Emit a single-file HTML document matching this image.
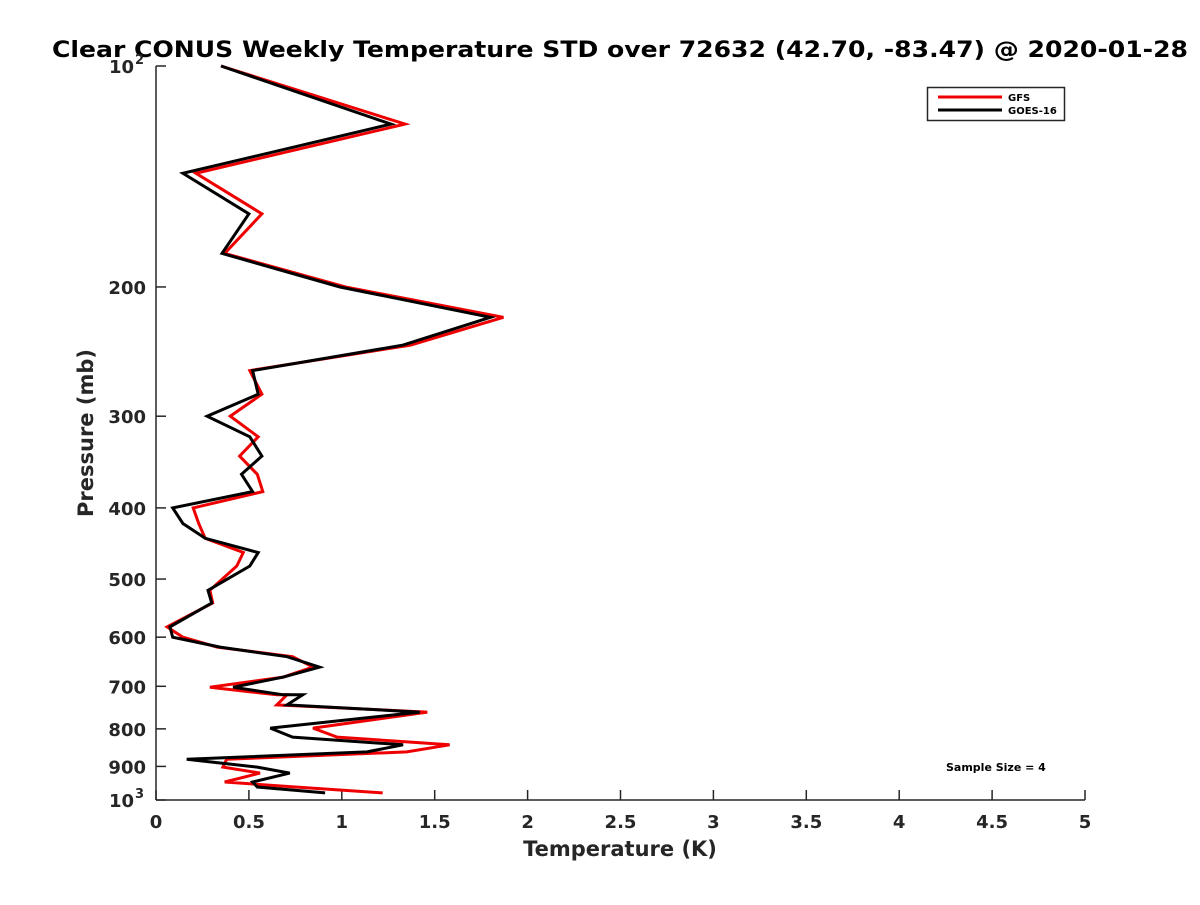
<!DOCTYPE html>
<html><head><meta charset="utf-8"><style>
body{margin:0;background:#fff}
text{font-family:"DejaVu Sans","Liberation Sans",sans-serif;font-weight:bold;fill:#262626}
</style></head><body>
<svg id="chart" width="1200" height="900" viewBox="0 0 1200 900" xmlns="http://www.w3.org/2000/svg">
<rect width="1200" height="900" fill="#fff"/>
<text x="52" y="57" font-size="22" textLength="1136" lengthAdjust="spacingAndGlyphs" style="fill:#000">Clear CONUS Weekly Temperature STD over 72632 (42.70, -83.47) @ 2020-01-28</text>
<g id="axes"></g>
<g id="series"></g>
<g>
<rect x="927.5" y="87.5" width="137" height="33" fill="#fff" stroke="#262626" stroke-width="1.5"/>
<line x1="938" y1="97" x2="1002" y2="97" stroke="#e00" stroke-width="3"/>
<text x="1008" y="101" font-size="10" style="fill:#000">GFS</text>
<line x1="938" y1="110" x2="1002" y2="110" stroke="#000" stroke-width="3"/>
<text x="1008" y="114" font-size="10" style="fill:#000">GOES-16</text>
</g>
<text x="946" y="771" font-size="11" style="fill:#000">Sample Size = 4</text>
<text x="620" y="856" font-size="21" text-anchor="middle">Temperature (K)</text>
<text transform="translate(93,433) rotate(-90)" font-size="21" text-anchor="middle">Pressure (mb)</text>
</svg>
<script>
const pressures=[100,120,140,159,180,200,220,240,260,280,300,320,340,360,380,400,420,440,460,480,518,539,581,600,619,638,659,680,702,719,719,742,759,798,821,841,860,880,902,919,945,960,978];
const goesValues=[0.35,1.265,0.145,0.50,0.355,0.99,1.80,1.33,0.52,0.55,0.275,0.505,0.57,0.46,0.52,0.09,0.145,0.265,0.55,0.505,0.28,0.30,0.075,0.09,0.345,0.705,0.88,0.685,0.415,0.685,0.79,0.705,1.42,0.615,0.735,1.33,1.135,0.165,0.545,0.72,0.52,0.545,0.91];
const gfsValues=[0.35,1.34,0.215,0.57,0.37,1.02,1.87,1.37,0.505,0.57,0.40,0.55,0.45,0.545,0.575,0.20,0.23,0.265,0.47,0.435,0.29,0.305,0.06,0.145,0.33,0.735,0.845,0.685,0.29,0.65,0.705,0.65,1.46,0.845,0.975,1.58,1.35,0.38,0.36,0.56,0.37,0.75,1.22];
const xTicks=[0,0.5,1,1.5,2,2.5,3,3.5,4,4.5,5];
const xTickLabels=["0","0.5","1","1.5","2","2.5","3","3.5","4","4.5","5"];
const yTicks=[100,200,300,400,500,600,700,800,900,1000];
const yTickLabels=["10^2","200","300","400","500","600","700","800","900","10^3"];

const NS="http://www.w3.org/2000/svg";
const X0=156,X1=1085,Y0=66,Y1=800;
const xs=v=>X0+(v-0)/(5-0)*(X1-X0);
const ys=p=>Y0+(Math.log10(p)-2)/(3-2)*(Y1-Y0);
function mk(tag,attrs,parent){const e=document.createElementNS(NS,tag);for(const k in attrs)e.setAttribute(k,attrs[k]);parent.appendChild(e);return e;}
const axes=document.getElementById('axes');
const yl=mk('line',{x1:X0,y1:Y0,x2:X0,y2:Y1,stroke:'#262626','stroke-width':1.5},axes);


const xl=mk('line',{x1:X0,y1:Y1,x2:X1,y2:Y1,stroke:'#262626','stroke-width':1.5},axes);


xTicks.forEach((v,i)=>{
  mk('line',{x1:xs(v),y1:Y1,x2:xs(v),y2:Y1-10,stroke:'#262626','stroke-width':1.5},axes);
  const t=mk('text',{x:xs(v),y:Y1+28,'font-size':18,'text-anchor':'middle'},axes);
  t.textContent=xTickLabels[i];
  
  
});
yTicks.forEach((p,i)=>{
  const y=ys(p);
  mk('line',{x1:X0,y1:y,x2:X0+10,y2:y,stroke:'#262626','stroke-width':1.5},axes);
  const lab=yTickLabels[i];
  const t=mk('text',{x:X0-10,y:y+7,'font-size':18,'text-anchor':'end'},axes);
  
  
  if(lab.indexOf('^')>=0){
    const [b,e]=lab.split('^');
    t.setAttribute('x',X0-22);
    t.textContent=b;
    const s=mk('text',{x:X0-21,y:y-2,'font-size':13},axes);
    s.textContent=e;
    
    
  } else t.textContent=lab;
});
const ser=document.getElementById('series');
function line(vals,color,name){
  const pts=vals.map((v,i)=>xs(v).toFixed(1)+','+ys(pressures[i]).toFixed(1)).join(' ');
  const pl=mk('polyline',{points:pts,fill:'none',stroke:color,'stroke-width':3,'stroke-linejoin':'miter'},ser);
  
  
}
line(gfsValues,'#e00','gfs-line');
line(goesValues,'#000','goes16-line');
</script>
</body></html>
